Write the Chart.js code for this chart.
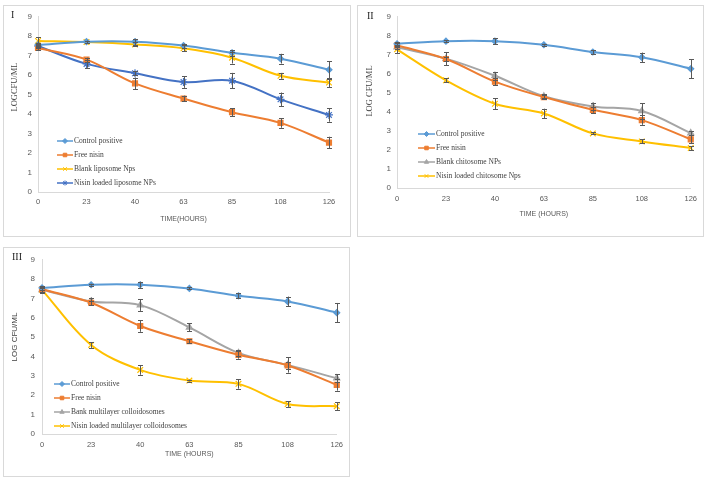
<!DOCTYPE html>
<html>
<head>
<meta charset="utf-8">
<script src="https://cdn.jsdelivr.net/npm/chart.js@4/dist/chart.umd.min.js"></script>
<style>
  body { margin: 0; background: #fff; width: 708px; height: 481px; position: relative; overflow: hidden; }
  .panel { position: absolute; border: 1px solid #d9d9d9; box-sizing: border-box; background: #fff; }
  canvas { display: block; }
</style>
</head>
<body>
<div class="panel" id="p1" style="left:3px;top:5px;width:348px;height:232px"><canvas id="c1" width="346" height="230"></canvas></div>
<div class="panel" id="p2" style="left:357px;top:5px;width:347px;height:232px"><canvas id="c2" width="345" height="230"></canvas></div>
<div class="panel" id="p3" style="left:3px;top:247px;width:347px;height:230px"><canvas id="c3" width="345" height="228"></canvas></div>
<script>
// time points (hours)
const hours = ["0", "23", "40", "63", "85", "108", "126"];

// Panel I - liposomes
const p1Labels = ["Control positive", "Free nisin", "Blank liposome Nps", "Nisin loaded liposome NPs"];
const p1Control = [7.56, 7.72, 7.72, 7.52, 7.15, 6.85, 6.28];
const p1ControlErr = [0.1, 0.06, 0.15, 0.1, 0.15, 0.25, 0.45];
const p1Free = [7.4, 6.8, 5.58, 4.8, 4.1, 3.55, 2.54];
const p1FreeErr = [0.1, 0.1, 0.3, 0.15, 0.2, 0.25, 0.3];
const p1Blank = [7.76, 7.7, 7.58, 7.38, 6.9, 5.97, 5.62];
const p1BlankErr = [0.2, 0.05, 0.1, 0.15, 0.3, 0.15, 0.25];
const p1Loaded = [7.5, 6.58, 6.1, 5.65, 5.72, 4.76, 3.96];
const p1LoadedErr = [0.1, 0.2, 0.1, 0.3, 0.4, 0.35, 0.35];

// Panel II - chitosomes
const p2Labels = ["Control positive", "Free nisin", "Blank chitosome NPs", "Nisin loaded chitosome Nps"];
const p2Control = [7.58, 7.72, 7.72, 7.53, 7.15, 6.87, 6.27];
const p2ControlErr = [0.1, 0.05, 0.15, 0.05, 0.1, 0.25, 0.5];
const p2Free = [7.5, 6.78, 5.59, 4.78, 4.11, 3.57, 2.56];
const p2FreeErr = [0.1, 0.1, 0.2, 0.1, 0.15, 0.25, 0.2];
const p2Blank = [7.4, 6.8, 5.9, 4.82, 4.29, 4.05, 2.89];
const p2BlankErr = [0.1, 0.35, 0.2, 0.1, 0.2, 0.4, 0.1];
const p2Loaded = [7.29, 5.66, 4.43, 3.92, 2.87, 2.45, 2.1];
const p2LoadedErr = [0.2, 0.1, 0.3, 0.25, 0.05, 0.1, 0.1];

// Panel III - multilayer colloidosomes
const p3Labels = ["Control positive", "Free nisin", "Bank multilayer colloidosomes", "Nisin loaded multilayer colloidosomes"];
const p3Control = [7.55, 7.71, 7.71, 7.52, 7.14, 6.85, 6.27];
const p3ControlErr = [0.1, 0.05, 0.15, 0.05, 0.12, 0.25, 0.5];
const p3Free = [7.48, 6.78, 5.58, 4.79, 4.09, 3.54, 2.54];
const p3FreeErr = [0.15, 0.1, 0.3, 0.1, 0.2, 0.2, 0.3];
const p3Blank = [7.45, 6.85, 6.66, 5.51, 4.19, 3.57, 2.88];
const p3BlankErr = [0.15, 0.2, 0.3, 0.2, 0.15, 0.4, 0.2];
const p3Loaded = [7.45, 4.6, 3.31, 2.76, 2.59, 1.55, 1.44];
const p3LoadedErr = [0.1, 0.15, 0.25, 0.05, 0.25, 0.15, 0.2];

const yTicks = [0, 1, 2, 3, 4, 5, 6, 7, 8, 9];

const BLUE = "#5B9BD5", ORANGE = "#ED7D31", GRAY = "#A5A5A5", YELLOW = "#FFC000", DKBLUE = "#4472C4";
const SERIF = "'Liberation Serif', 'DejaVu Serif', serif";
const SANS = "'Liberation Sans', Arial, sans-serif";

function series(label, data, errors, color, style, radius) {
    return {
        label: label,
        data: data,
        errors: errors,
        borderColor: color,
        backgroundColor: color,
        pointBackgroundColor: color,
        pointBorderColor: color,
        pointStyle: style,
        pointRadius: radius,
        pointBorderWidth: 1.2,
        borderWidth: 2,
        tension: 0.35,
        fill: false
    };
}

// vertical error bars with small caps
const errorBars = {
    id: "errorBars",
    afterDatasetsDraw(chart) {
        const ctx = chart.ctx;
        const y = chart.scales.y;
        ctx.save();
        ctx.strokeStyle = "#595959";
        ctx.lineWidth = 1;
        chart.data.datasets.forEach((ds, i) => {
            const meta = chart.getDatasetMeta(i);
            meta.data.forEach((pt, j) => {
                const e = ds.errors[j];
                const t = y.getPixelForValue(ds.data[j] + e);
                const b = y.getPixelForValue(ds.data[j] - e);
                const x = Math.round(pt.x) + 0.5;
                ctx.beginPath();
                ctx.moveTo(x, t); ctx.lineTo(x, b);
                ctx.moveTo(x - 2.5, Math.round(t) + 0.5); ctx.lineTo(x + 2.5, Math.round(t) + 0.5);
                ctx.moveTo(x - 2.5, Math.round(b) + 0.5); ctx.lineTo(x + 2.5, Math.round(b) + 0.5);
                ctx.stroke();
            });
        });
        ctx.restore();
    }
};

// legend inside plot, axis titles and panel numeral
const decorations = {
    id: "decorations",
    afterDraw(chart, args, o) {
        const ctx = chart.ctx;
        const area = chart.chartArea;
        ctx.save();
        // legend
        chart.data.datasets.forEach((ds, i) => {
            const ly = o.legendY + i * o.legendRow;
            ctx.strokeStyle = ds.borderColor;
            ctx.lineWidth = 1.5;
            ctx.beginPath();
            ctx.moveTo(o.legendX, ly); ctx.lineTo(o.legendX + o.legendLine, ly);
            ctx.stroke();
            ctx.fillStyle = ds.borderColor;
            ctx.lineWidth = 1;
            Chart.helpers.drawPoint(ctx, { pointStyle: ds.pointStyle, radius: 2.5, rotation: 0, borderWidth: 1 }, o.legendX + o.legendLine / 2, ly);
            ctx.fillStyle = "#404040";
            ctx.font = "7.5px " + SERIF;
            ctx.textAlign = "left";
            ctx.textBaseline = "middle";
            ctx.fillText(ds.label, o.legendX + o.legendLine + 1, ly);
        });
        // x title
        ctx.fillStyle = "#595959";
        ctx.font = "7px " + SANS;
        ctx.textAlign = "center";
        ctx.textBaseline = "middle";
        ctx.fillText(o.xTitle, (area.left + area.right) / 2, area.bottom + o.xTitleGap);
        // y title
        ctx.save();
        ctx.translate(o.yTitleX, o.yTitleY);
        ctx.rotate(-Math.PI / 2);
        ctx.font = o.yTitleFont;
        ctx.fillStyle = "#404040";
        ctx.fillText(o.yTitle, 0, 0);
        ctx.restore();
        // numeral
        ctx.font = "10px " + SERIF;
        ctx.fillStyle = "#222";
        ctx.textAlign = "left";
        ctx.fillText(o.numeral, o.numX, o.numY);
        ctx.restore();
    }
};

function makeChart(id, datasets, lay, deco) {
    return new Chart(document.getElementById(id), {
        type: "line",
        data: { labels: hours, datasets: datasets },
        options: {
            responsive: false,
            animation: false,
            layout: { padding: { left: 0, top: lay.top, right: lay.right, bottom: 0 } },
            plugins: { legend: { display: false }, tooltip: { enabled: false }, decorations: deco },
            scales: {
                x: {
                    type: "category",
                    offset: false,
                    grid: { display: false, drawTicks: false },
                    border: { display: true, color: "#d9d9d9" },
                    ticks: { color: "#595959", font: { size: 7.5, family: SANS }, padding: lay.xPad, maxRotation: 0 },
                    afterFit(s) { s.height = lay.xH; }
                },
                y: {
                    min: 0, max: 9,
                    afterBuildTicks(s) { s.ticks = yTicks.map(v => ({ value: v })); },
                    grid: { display: false, drawTicks: false },
                    border: { display: true, color: "#d9d9d9" },
                    ticks: { color: "#595959", font: { size: 8, family: SANS }, padding: lay.yPad },
                    afterFit(s) { s.width = lay.yW; }
                }
            }
        },
        plugins: [errorBars, decorations]
    });
}

makeChart("c1", [
    series(p1Labels[0], p1Control, p1ControlErr, BLUE, "rectRot", 3),
    series(p1Labels[1], p1Free, p1FreeErr, ORANGE, "rect", 3.5),
    series(p1Labels[2], p1Blank, p1BlankErr, YELLOW, "crossRot", 4),
    series(p1Labels[3], p1Loaded, p1LoadedErr, DKBLUE, "star", 4)
], { top: 8, right: 21, xH: 44, xPad: 5, yPad: 6, yW: 34 },
{ legendX: 53, legendY: 135, legendRow: 14, legendLine: 16, xTitle: "TIME(HOURS)", xTitleGap: 27,
  yTitle: "LOGCFU/ML", yTitleX: 11, yTitleY: 81, yTitleFont: "8.5px " + SERIF, numeral: "I", numX: 7, numY: 9 });

makeChart("c2", [
    series(p2Labels[0], p2Control, p2ControlErr, BLUE, "rectRot", 3),
    series(p2Labels[1], p2Free, p2FreeErr, ORANGE, "rect", 3.5),
    series(p2Labels[2], p2Blank, p2BlankErr, GRAY, "triangle", 3.5),
    series(p2Labels[3], p2Loaded, p2LoadedErr, YELLOW, "crossRot", 4)
], { top: 10, right: 12, xH: 48, xPad: 6, yPad: 6, yW: 39 },
{ legendX: 60, legendY: 128, legendRow: 14, legendLine: 17, xTitle: "TIME (HOURS)", xTitleGap: 26,
  yTitle: "LOG CFU/ML", yTitleX: 12, yTitleY: 85, yTitleFont: "8.5px " + SERIF, numeral: "II", numX: 9, numY: 10 });

makeChart("c3", [
    series(p3Labels[0], p3Control, p3ControlErr, BLUE, "rectRot", 3),
    series(p3Labels[1], p3Free, p3FreeErr, ORANGE, "rect", 3.5),
    series(p3Labels[2], p3Blank, p3BlankErr, GRAY, "triangle", 3.5),
    series(p3Labels[3], p3Loaded, p3LoadedErr, YELLOW, "crossRot", 4)
], { top: 11, right: 12, xH: 42, xPad: 6, yPad: 7, yW: 38 },
{ legendX: 50, legendY: 136, legendRow: 14, legendLine: 16, xTitle: "TIME (HOURS)", xTitleGap: 20,
  yTitle: "LOG CFU/ML", yTitleX: 11, yTitleY: 89, yTitleFont: "8px " + SANS, numeral: "III", numX: 8, numY: 9 });
</script>
</body>
</html>
